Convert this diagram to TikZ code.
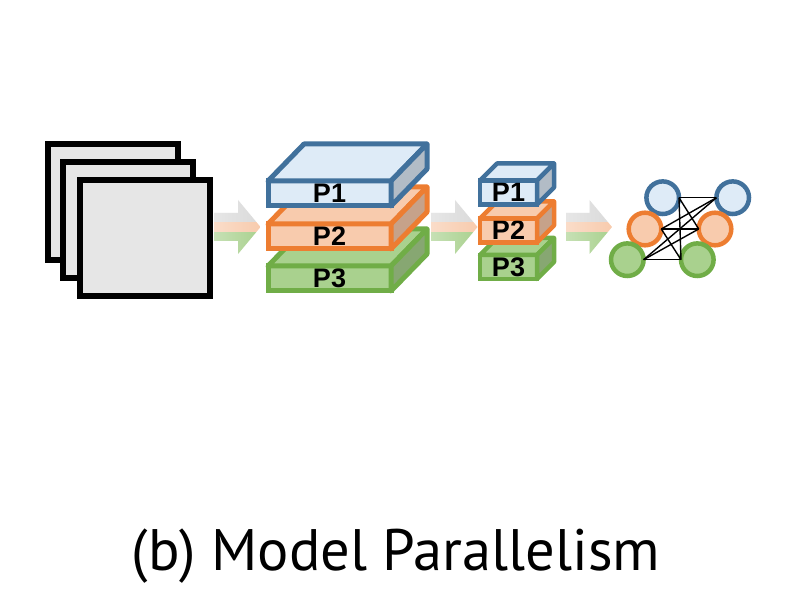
\documentclass[tikz,border=0pt]{standalone}
\usepackage{fontspec}
\setsansfont{Liberation Sans}
\newfontfamily\capfont{PT Sans}
\usetikzlibrary{
positioning,
calc,
fadings
}
\definecolor{blueline}{HTML}{41719C}
\definecolor{bluefill}{HTML}{DEEBF7}
\definecolor{orangeline}{HTML}{ED7D31}
\definecolor{orangefill}{HTML}{F8CBAD}
\definecolor{greenline}{HTML}{70AD47}
\definecolor{greenfill}{HTML}{A9D18E}
\definecolor{sheetfill}{HTML}{E6E6E6}
\definecolor{flowgray}{HTML}{DADADA}

\begin{document}
\begin{tikzpicture}[
		x=1pt, y=-1pt,
    sheet/.style={draw=black, fill=sheetfill, line width=5.5pt, minimum width=130pt, minimum height=116pt, inner sep=0pt, outer sep=0pt},
    front/.style={draw=#1line, fill=#1fill, line width=5pt, inner sep=0pt, outer sep=0pt, font=\sffamily\bfseries\fontsize{27}{27}\selectfont},
		top/.style={draw=#1line, fill=#1fill, line width=5pt, line join=round},
		side/.style={draw=#1line, fill=#1fill!80!black, line width=5pt, line join=round},
		big/.style={minimum width=123pt, minimum height=25pt},
		small/.style={minimum width=57pt, minimum height=24pt, line width=4.5pt},
		neuron/.style={circle, draw=#1line, fill=#1fill, line width=4.5pt, minimum size=32.6pt, inner sep=0pt, outer sep=0pt},
		link/.style={draw=black, line width=1.4pt},
		flow/.pic={
			\begin{scope}
			\clip (0,0) -- (24,0) -- (24,-13) -- (46.5,14) -- (24,41) -- (24,28) -- (0,28) -- cycle;
			\fill[flowgray] (0,-14) rectangle (47,9);
			\fill[orangefill] (0,9) rectangle (47,19);
			\fill[greenfill] (0,19) rectangle (47,42);
			\fill[white, opacity=0.35, path fading=east] (0,-14) rectangle (47,42);
			\end{scope}
		}
  ]
	\useasboundingbox (0,0) rectangle (787,593);
	% input sheets
	\node[sheet] (sheetA) at (113,202) {};
	\node[sheet] (sheetB) at (128,220) {};
	\node[sheet] (sheetC) at (145,238) {};

	% big layers, bottom first
	\node[front=green, big] (P3) at (329.5,278.5) {P3};
	\filldraw[top=green] (P3.north west) -- ++(36,-37) -- ($(P3.north east)+(36,-37)$) -- (P3.north east) -- cycle;
	\filldraw[side=green] (P3.north east) -- ++(36,-37) -- ($(P3.south east)+(36,-37)$) -- (P3.south east) -- cycle;
	\node[front=orange, big] (P2) at (329.5,236.5) {P2};
	\filldraw[top=orange] (P2.north west) -- ++(36,-37) -- ($(P2.north east)+(36,-37)$) -- (P2.north east) -- cycle;
	\filldraw[side=orange] (P2.north east) -- ++(36,-37) -- ($(P2.south east)+(36,-37)$) -- (P2.south east) -- cycle;
	\node[front=blue, big] (P1) at (329.5,193.5) {P1};
	\filldraw[top=blue] (P1.north west) -- ++(36,-37) -- ($(P1.north east)+(36,-37)$) -- (P1.north east) -- cycle;
	\filldraw[side=blue] (P1.north east) -- ++(36,-37) -- ($(P1.south east)+(36,-37)$) -- (P1.south east) -- cycle;

	% small layers
	\node[front=green, small] (Q3) at (508.5,267) {P3};
	\filldraw[top=green, line width=4.5pt] (Q3.north west) -- ++(17,-17) -- ($(Q3.north east)+(17,-17)$) -- (Q3.north east) -- cycle;
	\filldraw[side=green, line width=4.5pt] (Q3.north east) -- ++(17,-17) -- ($(Q3.south east)+(17,-17)$) -- (Q3.south east) -- cycle;
	\node[front=orange, small] (Q2) at (508.5,230.5) {P2};
	\filldraw[top=orange, line width=4.5pt] (Q2.north west) -- ++(17,-17) -- ($(Q2.north east)+(17,-17)$) -- (Q2.north east) -- cycle;
	\filldraw[side=orange, line width=4.5pt] (Q2.north east) -- ++(17,-17) -- ($(Q2.south east)+(17,-17)$) -- (Q2.south east) -- cycle;
	\node[front=blue, small] (Q1) at (508.5,192.5) {P1};
	\filldraw[top=blue, line width=4.5pt] (Q1.north west) -- ++(17,-17) -- ($(Q1.north east)+(17,-17)$) -- (Q1.north east) -- cycle;
	\filldraw[side=blue, line width=4.5pt] (Q1.north east) -- ++(17,-17) -- ($(Q1.south east)+(17,-17)$) -- (Q1.south east) -- cycle;

	% flows
	\pic at (214,213) {flow};
	\pic at (431,213) {flow};
	\pic at (565.5,213) {flow};

	% network
	\node[neuron=blue] (bL) at (662.7,197.7) {};
	\node[neuron=blue, right=37.4pt of bL] (bR) {};
	\node[neuron=orange] (oL) at (645,229) {};
	\node[neuron=orange, right=37.4pt of oL] (oR) {};
	\node[neuron=green] (gL) at (627.3,259.7) {};
	\node[neuron=green, right=37.4pt of gL] (gR) {};
	\draw[link] (bL.east) -- (bR.west);
	\draw[link] (bL.east) -- (oR.west);
	\draw[link] (bL.east) -- (gR.west);
	\draw[link] (oL.east) -- (bR.west);
	\draw[link] (oL.east) -- (oR.west);
	\draw[link] (oL.east) -- (gR.west);
	\draw[link] (gL.east) -- (bR.west);
	\draw[link] (gL.east) -- (oR.west);
	\draw[link] (gL.east) -- (gR.west);

	\node[font=\capfont\fontsize{58.5}{58.5}\selectfont, anchor=base] (caption) at (396,570) {(b) Model Parallelism};
\end{tikzpicture}
\end{document}
